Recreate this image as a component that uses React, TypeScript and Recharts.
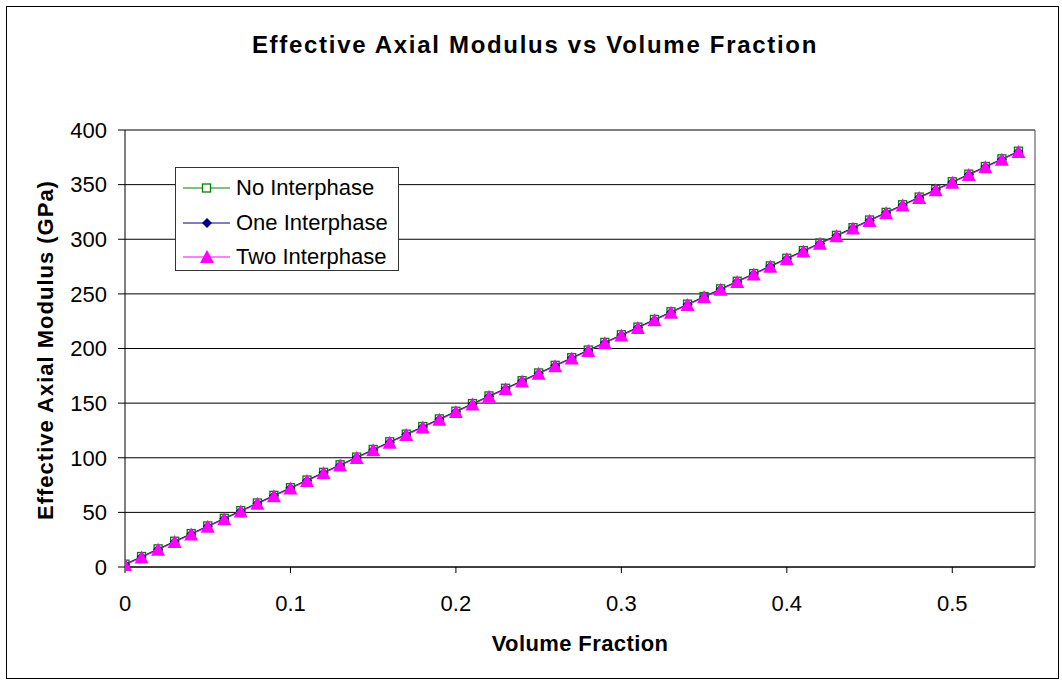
import React from 'react';
import { LineChart, Line, XAxis, YAxis, CartesianGrid, ReferenceLine } from 'recharts';

const volumeFraction = [
  0, 0.01, 0.02, 0.03, 0.04, 0.05, 0.06, 0.07, 0.08, 0.09,
  0.1, 0.11, 0.12, 0.13, 0.14, 0.15, 0.16, 0.17, 0.18, 0.19,
  0.2, 0.21, 0.22, 0.23, 0.24, 0.25, 0.26, 0.27, 0.28, 0.29,
  0.3, 0.31, 0.32, 0.33, 0.34, 0.35, 0.36, 0.37, 0.38, 0.39,
  0.4, 0.41, 0.42, 0.43, 0.44, 0.45, 0.46, 0.47, 0.48, 0.49,
  0.5, 0.51, 0.52, 0.53, 0.54,
];

const noInterphase = [
  2.6, 9.6, 16.6, 23.6, 30.6, 37.6, 44.6, 51.6, 58.6, 65.6,
  72.6, 79.6, 86.6, 93.6, 100.6, 107.6, 114.6, 121.6, 128.6, 135.6,
  142.6, 149.6, 156.6, 163.6, 170.6, 177.6, 184.6, 191.6, 198.6, 205.6,
  212.6, 219.6, 226.6, 233.6, 240.6, 247.6, 254.6, 261.6, 268.6, 275.6,
  282.6, 289.6, 296.6, 303.6, 310.6, 317.6, 324.6, 331.6, 338.6, 345.6,
  352.6, 359.6, 366.6, 373.6, 380.6,
];

const oneInterphase = [
  2.2, 9.2, 16.2, 23.2, 30.2, 37.2, 44.2, 51.2, 58.2, 65.2,
  72.2, 79.2, 86.2, 93.2, 100.2, 107.2, 114.2, 121.2, 128.2, 135.2,
  142.2, 149.2, 156.2, 163.2, 170.2, 177.2, 184.2, 191.2, 198.2, 205.2,
  212.2, 219.2, 226.2, 233.2, 240.2, 247.2, 254.2, 261.2, 268.2, 275.2,
  282.2, 289.2, 296.2, 303.2, 310.2, 317.2, 324.2, 331.2, 338.2, 345.2,
  352.2, 359.2, 366.2, 373.2, 380.2,
];

const twoInterphase = [
  1.8, 8.8, 15.8, 22.8, 29.8, 36.8, 43.8, 50.8, 57.8, 64.8,
  71.8, 78.8, 85.8, 92.8, 99.8, 106.8, 113.8, 120.8, 127.8, 134.8,
  141.8, 148.8, 155.8, 162.8, 169.8, 176.8, 183.8, 190.8, 197.8, 204.8,
  211.8, 218.8, 225.8, 232.8, 239.8, 246.8, 253.8, 260.8, 267.8, 274.8,
  281.8, 288.8, 295.8, 302.8, 309.8, 316.8, 323.8, 330.8, 337.8, 344.8,
  351.8, 358.8, 365.8, 372.8, 379.8,
];

const xTicks = [0, 0.1, 0.2, 0.3, 0.4, 0.5];
const yTicks = [0, 50, 100, 150, 200, 250, 300, 350, 400];

const data = volumeFraction.map((v, i) => ({
  vf: v,
  none: noInterphase[i],
  one: oneInterphase[i],
  two: twoInterphase[i],
}));

const FONT = '"Liberation Sans", Arial, sans-serif';
const GREEN = '#008000';
const NAVY = '#000080';
const MAGENTA = '#FF00FF';

const SquareDot = (p: any) => {
  if (p.cx == null || p.cy == null) return <g key={p.key} />;
  return <rect key={p.key} x={p.cx - 4} y={p.cy - 4} width={8} height={8} fill="none" stroke={GREEN} strokeWidth={1.3} />;
};

const DiamondDot = (p: any) => {
  if (p.cx == null || p.cy == null) return <g key={p.key} />;
  const { cx, cy } = p;
  return <polygon key={p.key} points={`${cx},${cy - 5} ${cx + 5},${cy} ${cx},${cy + 5} ${cx - 5},${cy}`} fill={NAVY} />;
};

const TriangleDot = (p: any) => {
  if (p.cx == null || p.cy == null) return <g key={p.key} />;
  const { cx, cy } = p;
  return <polygon key={p.key} points={`${cx},${cy - 7} ${cx + 7},${cy + 6} ${cx - 7},${cy + 6}`} fill={MAGENTA} />;
};

const legendItems = [
  { name: 'No Interphase', color: GREEN, marker: 'square' },
  { name: 'One Interphase', color: NAVY, marker: 'diamond' },
  { name: 'Two Interphase', color: MAGENTA, marker: 'triangle' },
];

function LegendIcon({ color, marker }: { color: string; marker: string }) {
  return (
    <svg width={48} height={20} style={{ display: 'block' }}>
      <line x1={0} y1={10} x2={47} y2={10} stroke={color} strokeWidth={1} />
      {marker === 'square' && <rect x={19.5} y={6} width={8} height={8} fill="#fff" stroke={color} strokeWidth={1.3} />}
      {marker === 'diamond' && <polygon points="24,5 29,10 24,15 19,10" fill={color} />}
      {marker === 'triangle' && <polygon points="24,3 31,16 17,16" fill={color} />}
    </svg>
  );
}

export default function App() {
  return (
    <div style={{ position: 'absolute', left: 0, top: 0, width: 1062, height: 683, background: '#fff', fontFamily: FONT }}>
      <div style={{ position: 'absolute', left: 6, top: 6, width: 1051, height: 671, border: '1px solid #000' }} />
      <div style={{ position: 'absolute', left: 0, top: 31, width: 1070, textAlign: 'center', fontWeight: 'bold', fontSize: 24, letterSpacing: 1.7, color: '#000' }}>
        Effective Axial Modulus vs Volume Fraction
      </div>
      <LineChart
        width={1062}
        height={683}
        data={data}
        margin={{ top: 130, right: 27, bottom: 56, left: 45 }}
        style={{ position: 'absolute', left: 0, top: 0 }}
      >
        <CartesianGrid vertical={false} stroke="#000" strokeWidth={1} />
        <XAxis
          dataKey="vf"
          type="number"
          domain={[0, 0.55]}
          ticks={xTicks}
          tickFormatter={(v: number) => String(v)}
          height={60}
          stroke="#000"
          tickSize={6}
          tickMargin={22}
          tick={{ fill: '#000', fontSize: 22, fontFamily: FONT }}
          allowDataOverflow
        />
        <YAxis
          type="number"
          domain={[0, 400]}
          ticks={yTicks}
          width={80}
          stroke="#000"
          tickSize={7}
          tickMargin={11}
          tick={{ fill: '#000', fontSize: 22, fontFamily: FONT }}
        />
        <ReferenceLine x={0.55} stroke="#444" strokeWidth={1} />
        <Line dataKey="none" stroke={GREEN} strokeWidth={1} dot={SquareDot} activeDot={false} isAnimationActive={false} />
        <Line dataKey="one" stroke={NAVY} strokeWidth={1} dot={DiamondDot} activeDot={false} isAnimationActive={false} />
        <Line dataKey="two" stroke={MAGENTA} strokeWidth={1} dot={TriangleDot} activeDot={false} isAnimationActive={false} />
      </LineChart>
      <div style={{ position: 'absolute', left: 36, top: 350, width: 0, height: 0 }}>
        <div style={{ position: 'absolute', left: 0, top: 0, transform: 'translate(-50%, -50%) rotate(-90deg)', whiteSpace: 'nowrap', fontWeight: 'bold', fontSize: 22, letterSpacing: 1, color: '#000', marginLeft: 10 }}>
          Effective Axial Modulus (GPa)
        </div>
      </div>
      <div style={{ position: 'absolute', left: 430, top: 631, width: 300, textAlign: 'center', fontWeight: 'bold', fontSize: 22, letterSpacing: 0.4, color: '#000' }}>
        Volume Fraction
      </div>
      <div style={{ position: 'absolute', left: 175, top: 167, width: 224, height: 104, border: '1px solid #333', background: '#fff', boxSizing: 'border-box', paddingTop: 3, paddingLeft: 7 }}>
        {legendItems.map(item => (
          <div key={item.name} style={{ display: 'flex', alignItems: 'center', height: 34.5, fontSize: 22, color: '#000' }}>
            <LegendIcon color={item.color} marker={item.marker} />
            <span style={{ marginLeft: 5 }}>{item.name}</span>
          </div>
        ))}
      </div>
    </div>
  );
}
